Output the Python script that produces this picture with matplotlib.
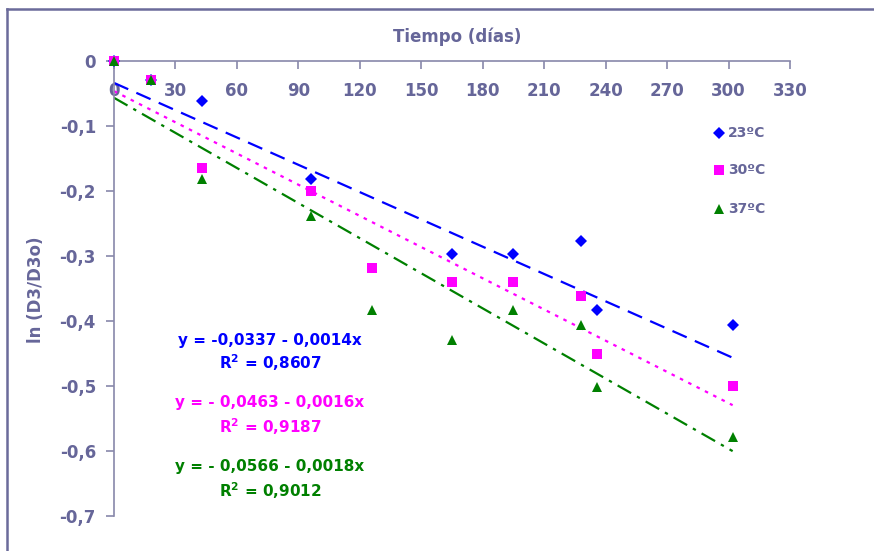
import matplotlib
matplotlib.use("Agg")
import matplotlib.pyplot as plt
from matplotlib.lines import Line2D
import numpy as np

# ---- data ----
days_23 = [0, 18, 43, 96, 165, 195, 228, 236, 302]
vals_23 = [0.0, -0.029, -0.062, -0.182, -0.297, -0.297, -0.277, -0.383, -0.406]

days_30 = [0, 18, 43, 96, 126, 165, 195, 228, 236, 302]
vals_30 = [0.0, -0.029, -0.164, -0.200, -0.318, -0.340, -0.340, -0.362, -0.451, -0.500]

days_37 = [0, 18, 43, 96, 126, 165, 195, 228, 236, 302]
vals_37 = [0.0, -0.029, -0.182, -0.238, -0.383, -0.429, -0.383, -0.406, -0.501, -0.579]

series_labels = ["23ºC", "30ºC", "37ºC"]
intercepts = [-0.0337, -0.0463, -0.0566]
slopes = [-0.0014, -0.0016, -0.0018]
eq_texts = ["y = -0,0337 - 0,0014x", "y = - 0,0463 - 0,0016x", "y = - 0,0566 - 0,0018x"]
r2_texts = ["0,8607", "0,9187", "0,9012"]
fit_range = [0, 302]

x_ticks = list(range(0, 331, 30))
y_ticks = [0, -0.1, -0.2, -0.3, -0.4, -0.5, -0.6, -0.7]
y_tick_labels = ["0", "-0,1", "-0,2", "-0,3", "-0,4", "-0,5", "-0,6", "-0,7"]

# ---- style ----
colors = ["#0000FF", "#FF00FF", "#008000"]
markers = ["D", "s", "^"]
msizes = [6, 7, 7.5]
dash_styles = [(0, (7, 4)), (0, (1.6, 2.6)), (0, (7, 3, 1.5, 3))]
axis_col = "#8888AA"
text_col = "#666699"

W, H = 874, 551
fig = plt.figure(figsize=(W / 100, H / 100), dpi=100)
fig.patch.set_facecolor("white")

# chart-area border (top and left visible)
fig.add_artist(Line2D([7 / W, 1.0], [1 - 9 / H, 1 - 9 / H], color="#6B6B9A", lw=1.8))
fig.add_artist(Line2D([7 / W, 7 / W], [0, 1 - 9 / H], color="#6B6B9A", lw=1.8))

x0, x1 = 114, 790
y0, y1 = 61, 516
ax = fig.add_axes([x0 / W, 1 - y1 / H, (x1 - x0) / W, (y1 - y0) / H])
ax.set_xlim(0, 330)
ax.set_ylim(-0.7, 0)

all_days = [days_23, days_30, days_37]
all_vals = [vals_23, vals_30, vals_37]
for i in range(3):
    xs = np.array(fit_range, dtype=float)
    ax.plot(xs, intercepts[i] + slopes[i] * xs, color=colors[i], lw=1.6,
            linestyle=dash_styles[i], zorder=2)
for i in range(3):
    ax.plot(all_days[i], all_vals[i], linestyle="none", marker=markers[i],
            markersize=msizes[i], color=colors[i], markeredgewidth=0,
            label=series_labels[i], zorder=3, clip_on=False)

for s in ["top", "right"]:
    ax.spines[s].set_visible(False)
ax.spines["bottom"].set_position(("data", 0))
for s in ["bottom", "left"]:
    ax.spines[s].set_color(axis_col)
    ax.spines[s].set_linewidth(1.2)

ax.set_xticks(x_ticks)
ax.set_xticklabels([str(t) for t in x_ticks])
ax.set_yticks(y_ticks)
ax.set_yticklabels(y_tick_labels)
ax.tick_params(axis="x", direction="out", length=6, width=1.2, color=axis_col,
               pad=9, labelsize=12, labelcolor=text_col)
ax.tick_params(axis="y", direction="out", length=6, width=1.2, color=axis_col,
               pad=7, labelsize=12, labelcolor=text_col)
for lab in ax.get_xticklabels() + ax.get_yticklabels():
    lab.set_fontweight("bold")

fig.text(457 / W, 1 - 37 / H, "Tiempo (días)", ha="center", va="center",
         fontsize=12, fontweight="bold", color=text_col)
fig.text(36 / W, 1 - 290 / H, "ln (D3/D3o)", ha="center", va="center",
         rotation=90, fontsize=12, fontweight="bold", color=text_col)

# equations
eq_y = [340, 403, 467]
r2_y = [363, 427, 491]
for i in range(3):
    fig.text(270 / W, 1 - eq_y[i] / H, eq_texts[i], ha="center", va="center",
             fontsize=11, fontweight="bold", color=colors[i])
    fig.text(270 / W, 1 - r2_y[i] / H, r"R$^\mathbf{2}$ = " + r2_texts[i],
             ha="center", va="center", fontsize=11, fontweight="bold", color=colors[i])

# legend
leg_y = [133, 170, 209]
for i in range(3):
    fig.add_artist(Line2D([719 / W], [1 - leg_y[i] / H], marker=markers[i],
                          markersize=msizes[i], color=colors[i], markeredgewidth=0,
                          linestyle="none"))
    fig.text(728 / W, 1 - leg_y[i] / H, series_labels[i], ha="left", va="center",
             fontsize=10, fontweight="bold", color=text_col)

fig.savefig("out.png", dpi=100, facecolor="white")
